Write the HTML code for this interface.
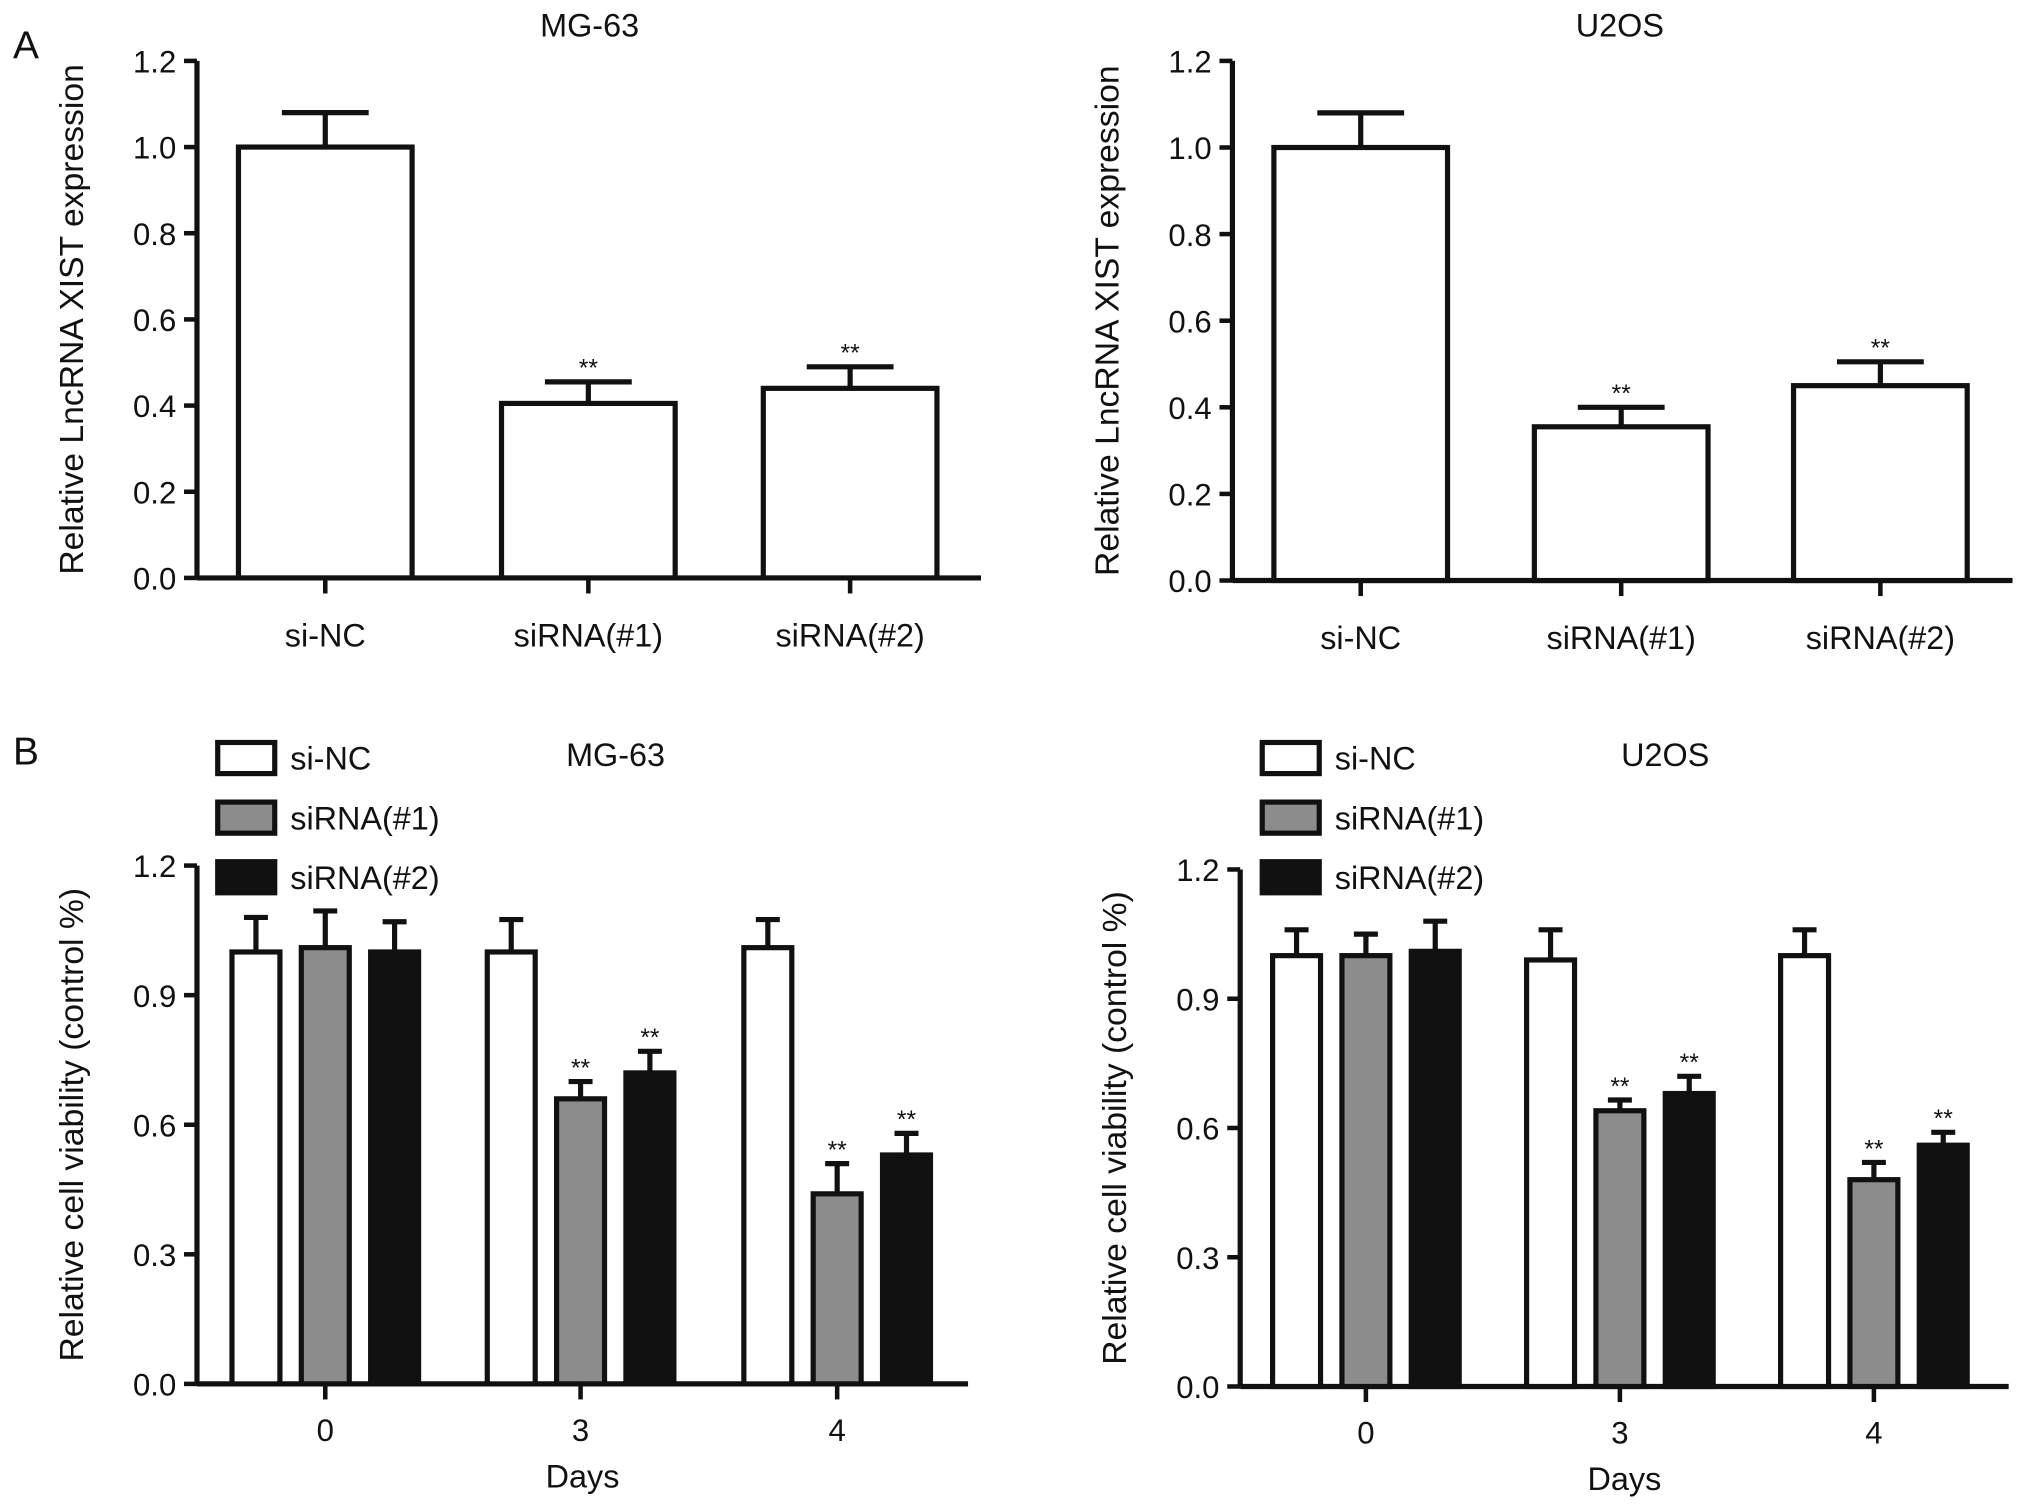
<!DOCTYPE html>
<html><head><meta charset="utf-8"><style>
html,body{margin:0;padding:0;background:#fff}
svg{display:block}
text{font-family:"Liberation Sans",Arial,sans-serif;fill:#111}
</style></head><body>
<svg id="fig" width="2032" height="1507" viewBox="0 0 1568 1163" preserveAspectRatio="none" xmlns="http://www.w3.org/2000/svg">
<text x="10" y="45" font-size="30">A</text>
<text x="10" y="590" font-size="30">B</text>
</svg>
<script>
const aCategories = ["si-NC","siRNA(#1)","siRNA(#2)"];
const aMG63Values = [1.0,0.405,0.44];
const aMG63Errors = [0.08,0.05,0.05];
const aU2OSValues = [1.0,0.355,0.45];
const aU2OSErrors = [0.08,0.045,0.055];
const aSig = ["","**","**"];
const aTicks = [0.0,0.2,0.4,0.6,0.8,1.0,1.2];

const bDays = ["0","3","4"];
const bSeries = ["si-NC","siRNA(#1)","siRNA(#2)"];
const bMG63Values = [[1.0,1.0,1.01],[1.01,0.66,0.44],[1.0,0.72,0.53]];
const bMG63Errors = [[0.08,0.075,0.065],[0.085,0.04,0.07],[0.07,0.05,0.05]];
const bU2OSValues = [[1.0,0.99,1.0],[1.0,0.64,0.48],[1.01,0.68,0.56]];
const bU2OSErrors = [[0.06,0.07,0.06],[0.05,0.025,0.04],[0.07,0.04,0.03]];
const bSig = [["","",""],["","**","**"],["","**","**"]];
const bTicks = [0.0,0.3,0.6,0.9,1.2];
const bFills = ["#ffffff","#8c8c8c","#111111"];

const NS="http://www.w3.org/2000/svg";
const svg=document.getElementById('fig');
function el(tag,attrs,parent){const e=document.createElementNS(NS,tag);for(const k in attrs)e.setAttribute(k,attrs[k]);(parent||svg).appendChild(e);return e;}
function txt(s,x,y,size,anchor,parent,rot){const t=el('text',{x:x,y:y,'font-size':size,'text-anchor':anchor||'middle'},parent);if(rot)t.setAttribute('transform',`rotate(-90 ${x} ${y})`);t.textContent=s;return t;}

function axes(g,ax,y0,y1,xEnd,ticks,max,ylabel,ylx){
  const ys=v=>y0-(v/max)*(y0-y1);
  const yl=el('line',{x1:ax,y1:y1,x2:ax,y2:y0,stroke:'#111','stroke-width':4},g);
  
  const xl=el('line',{x1:ax,y1:y0,x2:xEnd,y2:y0,stroke:'#111','stroke-width':4},g);
  
  ticks.forEach(v=>{el('line',{x1:ax-10,x2:ax,y1:ys(v),y2:ys(v),stroke:'#111','stroke-width':3.5},g);
    const t=txt(v.toFixed(1),ax-16,ys(v)+9,24,'end',g);
    });
  const yt=txt(ylabel,ylx,(y0+y1)/2,26,'middle',g,true);
  
  return ys;
}
function bar(g,x,w,v,e,ys,fill,sig){
  const top=ys(v),et=ys(v+e);
  el('line',{x1:x+w/2,x2:x+w/2,y1:top,y2:et,stroke:'#111','stroke-width':4},g);
  el('line',{x1:x+w/2-w*0.25,x2:x+w/2+w*0.25,y1:et,y2:et,stroke:'#111','stroke-width':4},g);
  const r=el('rect',{x:x,y:top,width:w,height:ys(0)-top,fill:fill,stroke:'#111','stroke-width':4},g);
  
  if(sig){const s=txt(sig,x+w/2,et-4,19,'middle',g);}
}
function panelA(ax,y0,xEnd,centers,vals,errs,title,tx,name){
  const g=el('g',{});
  const ys=axes(g,ax,y0,47,xEnd,aTicks,1.2,'Relative LncRNA XIST expression',ax-88);
  const w=134;
  aCategories.forEach((c,i)=>{bar(g,centers[i]-w/2,w,vals[i],errs[i],ys,'#fff',aSig[i]);
    el('line',{x1:centers[i],x2:centers[i],y1:y0,y2:y0+12,stroke:'#111','stroke-width':3.5},g);
    const t=txt(c,centers[i],y0+53,25,'middle',g);});
  const tt=txt(title,tx,28,25,'middle',g);
}
panelA(152,446,757,[251,454,656],aMG63Values,aMG63Errors,'MG-63',455,'panel-a-mg63');
panelA(951,448,1553,[1050,1251,1451],aU2OSValues,aU2OSErrors,'U2OS',1250,'panel-a-u2os');

function panelB(ax,y0,y1,xEnd,centers,vals,errs,title,tx,lx,name){
  const g=el('g',{});
  const ys=axes(g,ax,y0,y1,xEnd,bTicks,1.2,'Relative cell viability (control %)',ax-88);
  const w=37,step=53.5;
  bDays.forEach((d,di)=>{
    bSeries.forEach((s,si)=>bar(g,centers[di]+(si-1)*step-w/2,w,vals[si][di],errs[si][di],ys,bFills[si],bSig[si][di]));
    el('line',{x1:centers[di],x2:centers[di],y1:y0,y2:y0+12,stroke:'#111','stroke-width':3.5},g);
    const t=txt(d,centers[di],y0+44,24,'middle',g);});
  const xt=txt('Days',(ax+xEnd)/2,y0+80,25,'middle',g);
  const tt=txt(title,tx,591,25,'middle',g);
  bSeries.forEach((s,i)=>{const y=573+i*46;
    const lg=el('g',{},g);
    el('rect',{x:lx,y:y,width:44,height:24,fill:bFills[i],stroke:'#111','stroke-width':4},lg);
    txt(s,lx+56,y+21,25,'start',lg);});
}
panelB(152,1068,668,747,[251,448,646],bMG63Values,bMG63Errors,'MG-63',475,168,'panel-b-mg63');
panelB(957,1070,671,1550,[1054,1250,1446],bU2OSValues,bU2OSErrors,'U2OS',1285,974,'panel-b-u2os');
</script>
</body></html>
